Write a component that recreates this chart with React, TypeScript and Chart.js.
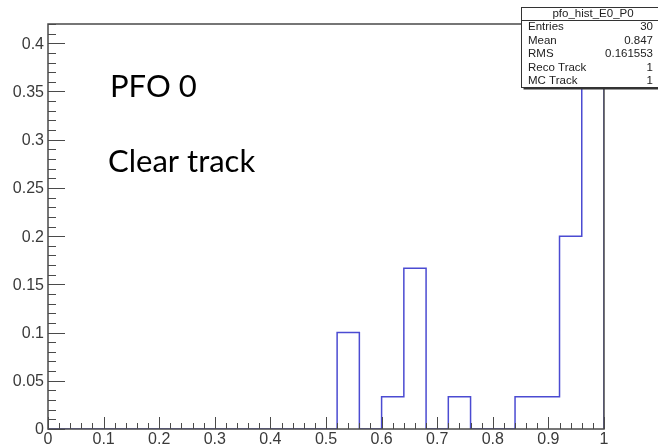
import React, { useEffect, useRef } from "react";
import { Chart, registerables } from "chart.js";

Chart.register(...registerables);

// Histogram contents: 25 bins of width 0.04 between 0 and 1, normalised to the entry count
const entries = 30;
const binLowEdges = [
  0, 0.04, 0.08, 0.12, 0.16, 0.2, 0.24, 0.28, 0.32, 0.36, 0.4, 0.44, 0.48,
  0.52, 0.56, 0.6, 0.64, 0.68, 0.72, 0.76, 0.8, 0.84, 0.88, 0.92, 0.96,
];
const binCounts = [
  0, 0, 0, 0, 0, 0, 0, 0, 0, 0, 0, 0, 0,
  3, 0, 1, 5, 0, 1, 0, 0, 1, 1, 6, 12,
];
const xUpperEdge = 1;

const xTickValues = [0, 0.1, 0.2, 0.3, 0.4, 0.5, 0.6, 0.7, 0.8, 0.9, 1];
const xTickLabels = ["0", "0.1", "0.2", "0.3", "0.4", "0.5", "0.6", "0.7", "0.8", "0.9", "1"];
const yTickValues = [0, 0.05, 0.1, 0.15, 0.2, 0.25, 0.3, 0.35, 0.4];
const yTickLabels = ["0", "0.05", "0.1", "0.15", "0.2", "0.25", "0.3", "0.35", "0.4"];

const statsTitle = "pfo_hist_E0_P0";
const statsNames = ["Entries", "Mean", "RMS", "Reco Track", "MC Track"];
const statsValues = ["30", "0.847", "0.161553", "1", "1"];

const noteLines = ["PFO 0", "Clear track"];

const AXIS = "#4a4a4a";
const LABEL = "#3a3a3a";
const TICK_FONT = '16px "Liberation Sans", Arial, sans-serif';
const STATS_FONT = '11.5px "Liberation Sans", Arial, sans-serif';
const NOTE_FONT = '31px Lato, "Open Sans", sans-serif';

const rootFrame = {
  id: "rootFrame",
  afterDatasetsDraw(chart: any) {
    const { ctx, chartArea: a, scales } = chart;
    const xs = scales.x;
    const ys = scales.y;
    ctx.save();

    // frame
    ctx.strokeStyle = AXIS;
    ctx.lineWidth = 1.5;
    ctx.strokeRect(a.left, a.top, a.right - a.left, a.bottom - a.top);

    // x ticks pointing into the frame: major every 0.1, minor every 0.02
    ctx.lineWidth = 1;
    ctx.beginPath();
    for (let i = 0; i <= 50; i++) {
      const px = Math.round(xs.getPixelForValue(i * 0.02)) + 0.5;
      const len = i % 5 === 0 ? 12 : 6;
      ctx.moveTo(px, a.bottom);
      ctx.lineTo(px, a.bottom - len);
    }
    // y ticks: major every 0.05, minor every 0.01
    for (let j = 0; j <= 42; j++) {
      const py = Math.round(ys.getPixelForValue(j * 0.01)) + 0.5;
      const len = j % 5 === 0 ? 17 : 8;
      ctx.moveTo(a.left, py);
      ctx.lineTo(a.left + len, py);
    }
    ctx.stroke();

    // tick labels
    ctx.fillStyle = LABEL;
    ctx.font = TICK_FONT;
    ctx.textAlign = "center";
    ctx.textBaseline = "top";
    xTickValues.forEach((v, i) => {
      ctx.fillText(xTickLabels[i], xs.getPixelForValue(v), a.bottom + 3);
    });
    ctx.textAlign = "right";
    ctx.textBaseline = "middle";
    yTickValues.forEach((v, i) => {
      ctx.fillText(yTickLabels[i], a.left - 4, ys.getPixelForValue(v) + 1);
    });

    // free text inside the pad
    ctx.fillStyle = "#000";
    ctx.font = NOTE_FONT;
    ctx.textAlign = "left";
    ctx.textBaseline = "alphabetic";
    ctx.fillText(noteLines[0], 110, 97);
    ctx.fillText(noteLines[1], 108, 172);

    // statistics box
    const bx = 521.5;
    const by = 7.5;
    const bw = 150;
    const bh = 80;
    ctx.fillStyle = "#fff";
    ctx.fillRect(bx, by, bw, bh);
    ctx.fillStyle = "#333";
    ctx.fillRect(bx + 2, by + bh, bw, 2);
    ctx.strokeStyle = "#333";
    ctx.lineWidth = 1;
    ctx.strokeRect(bx, by, bw, bh);
    ctx.beginPath();
    ctx.moveTo(bx, 20.5);
    ctx.lineTo(bx + bw, 20.5);
    ctx.stroke();

    ctx.fillStyle = "#222";
    ctx.font = STATS_FONT;
    ctx.textAlign = "center";
    ctx.textBaseline = "middle";
    ctx.fillText(statsTitle, 593, 14);
    statsNames.forEach((name, i) => {
      const ty = 27 + i * 13.5;
      ctx.textAlign = "left";
      ctx.fillText(name, 528, ty);
      ctx.textAlign = "right";
      ctx.fillText(statsValues[i], 653, ty);
    });

    ctx.restore();
  },
};

export default function App() {
  const canvasRef = useRef<HTMLCanvasElement | null>(null);

  useEffect(() => {
    const canvas = canvasRef.current;
    if (!canvas) return;

    const points = binLowEdges.map((x, i) => ({ x, y: binCounts[i] / entries }));
    points.push({ x: xUpperEdge, y: 0 });

    const chart = new Chart(canvas, {
      type: "line",
      data: {
        datasets: [
          {
            data: points,
            stepped: "before",
            borderColor: "#4b4bd2",
            borderWidth: 1.5,
            pointRadius: 0,
            fill: false,
          },
        ],
      },
      options: {
        responsive: false,
        animation: false,
        devicePixelRatio: 1,
        layout: { padding: { left: 48, right: 54, top: 24, bottom: 17 } },
        scales: {
          x: { type: "linear", min: 0, max: 1, display: false },
          y: { type: "linear", min: 0, max: 0.42, display: false },
        },
        plugins: {
          legend: { display: false },
          tooltip: { enabled: false },
        },
      },
      plugins: [rootFrame],
    });

    return () => chart.destroy();
  }, []);

  return (
    <div style={{ position: "absolute", left: 0, top: 0, width: 658, height: 446, background: "#fff" }}>
      <canvas ref={canvasRef} width={658} height={446} />
    </div>
  );
}
